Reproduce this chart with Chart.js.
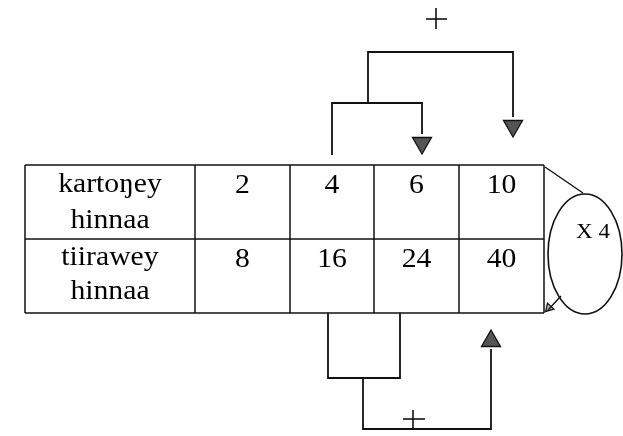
<!DOCTYPE html>
<html>
<head>
<meta charset="utf-8">
<script src="https://cdn.jsdelivr.net/npm/chart.js@4/dist/chart.umd.min.js"></script>
<style>
html,body{margin:0;padding:0;background:#fff;}
#wrap{width:623px;height:436px;}
</style>
</head>
<body>
<div id="wrap"><canvas id="c" width="623" height="436"></canvas></div>
<script>
// ---- data ----
const rowLabels = [["kartoŋey", "hinnaa"], ["tiirawey", "hinnaa"]];
const cartonPrices = [2, 4, 6, 10];
const tirePrices = [8, 16, 24, 40];
const addOperator = "+";
const multiplyOperator = "X 4";

// ---- layout (diagram geometry in scale units) ----
const colEdges = [25, 195, 290, 374, 459, 544];
const rowEdges = [165, 239, 313];
const ink = '#111';

function line(points, w) {
  return { type: 'scatter', data: points.map(p => ({x: p[0], y: p[1]})), showLine: true,
    borderColor: ink, borderWidth: w || 1.8, pointRadius: 0, fill: false, tension: 0, clip: false };
}
function arrow(x, y, rot, r, fillCol) {
  return { type: 'scatter', data: [{x: x, y: y}], showLine: false, pointStyle: 'triangle',
    pointRadius: r, rotation: rot, backgroundColor: fillCol, borderColor: ink, borderWidth: 1.3, clip: false };
}

const datasets = [];
// table grid
const L = colEdges[0], R = colEdges[colEdges.length - 1];
rowEdges.forEach(y => datasets.push(line([[L, y], [R, y]], 1.5)));
colEdges.forEach(x => datasets.push(line([[x, rowEdges[0]], [x, rowEdges[2]]], 1.5)));
// top brackets
datasets.push(line([[332, 155], [332, 103], [422, 103], [422, 134]]));
datasets.push(line([[368, 103], [368, 52], [513, 52], [513, 117]]));
datasets.push(arrow(422, 143, 180, 11, '#555'));
datasets.push(arrow(513, 126, 180, 11, '#555'));
// top plus
datasets.push(line([[426, 19], [447, 19]], 1.6));
datasets.push(line([[436, 8], [436, 29]], 1.6));
// bottom brackets
datasets.push(line([[328, 313], [328, 378], [400, 378], [400, 313]]));
datasets.push(line([[363, 378], [363, 429], [491, 429], [491, 349]]));
datasets.push(arrow(491, 341, 0, 11, '#555'));
// bottom plus
datasets.push(line([[403, 419], [425, 419]], 1.6));
datasets.push(line([[413, 410], [413, 429]], 1.6));
// connector to ellipse and arrow back
datasets.push(line([[545, 167], [583, 193]], 1.4));
datasets.push(line([[561, 296], [548, 310]], 1.4));
datasets.push(arrow(549, 308, 223, 5, '#bbb'));

const textPlugin = {
  id: 'diagramText',
  afterDatasetsDraw(chart) {
    const ctx = chart.ctx, xs = chart.scales.x, ys = chart.scales.y;
    const px = v => xs.getPixelForValue(v), py = v => ys.getPixelForValue(v);
    ctx.save();
    // ellipse
    ctx.strokeStyle = ink; ctx.lineWidth = 1.6;
    ctx.beginPath();
    const cx = px(585), cy = py(254);
    ctx.ellipse(cx, cy, px(622) - px(585), py(314) - py(254), 0, 0, Math.PI * 2);
    ctx.stroke();
    ctx.fillStyle = '#000';
    ctx.textAlign = 'center';
    ctx.textBaseline = 'alphabetic';
    function txt(t, x, y, size) {
      ctx.save();
      ctx.font = size + 'px "Liberation Serif", "Times New Roman", serif';
      ctx.translate(px(x), py(y));
      ctx.scale(1.1, 1);
      ctx.fillText(t, 0, 0);
      ctx.restore();
    }
    const labelX = (colEdges[0] + colEdges[1]) / 2;
    const labelBase = [[192, 228], [265, 299]];
    rowLabels.forEach((lines, r) => lines.forEach((t, i) => txt(t, labelX, labelBase[r][i], 27)));
    const valueBase = [193, 267];
    [cartonPrices, tirePrices].forEach((vals, r) => vals.forEach((v, i) => {
      txt(String(v), (colEdges[i + 1] + colEdges[i + 2]) / 2, valueBase[r], 27);
    }));
    txt(multiplyOperator, 593, 238, 21);
    ctx.restore();
  }
};

new Chart(document.getElementById('c'), {
  type: 'scatter',
  data: { datasets: datasets },
  options: {
    responsive: false, animation: false, maintainAspectRatio: false,
    layout: { padding: 0, autoPadding: false },
    plugins: { legend: { display: false }, tooltip: { enabled: false } },
    scales: {
      x: { type: 'linear', min: 0, max: 623, display: false },
      y: { type: 'linear', min: 0, max: 436, reverse: true, display: false }
    }
  },
  plugins: [textPlugin]
});
</script>
</body>
</html>
